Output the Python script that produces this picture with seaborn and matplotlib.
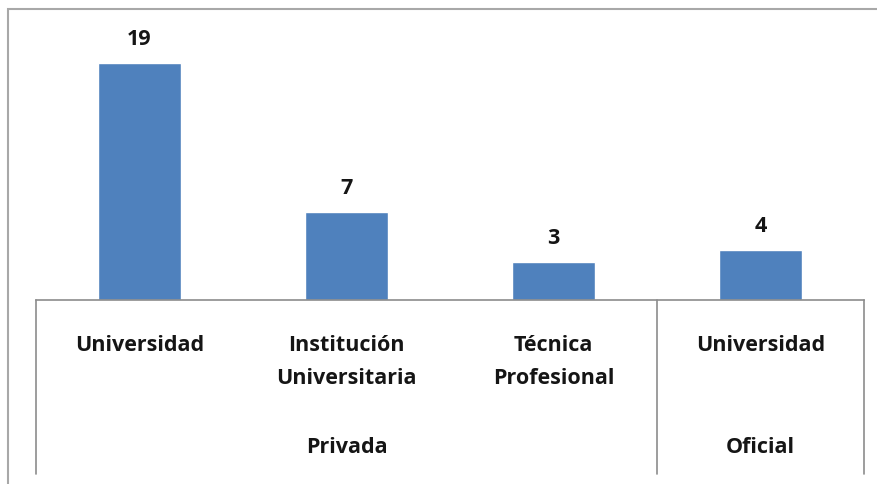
import matplotlib
matplotlib.use('Agg')
import matplotlib.pyplot as plt
import matplotlib.patches as mpatches
import matplotlib.transforms as mtransforms
import seaborn as sns
import pandas as pd

# data
categories = ['Universidad', 'Institución\nUniversitaria', 'Técnica\nProfesional', 'Universidad ']
values = [19, 7, 3, 4]
groups = ['Privada', 'Privada', 'Privada', 'Oficial']
group_names = ['Privada', 'Oficial']

df = pd.DataFrame({'categoria': categories, 'valor': values, 'grupo': groups})

sns.set_style('white')
plt.rcParams['font.family'] = ['Open Sans', 'DejaVu Sans']

fig = plt.figure(figsize=(8.78, 4.85), dpi=100)
W, H = 878, 485
base_y = 300.5
top_y = 20
ax = fig.add_axes([36 / W, (H - base_y) / H, 828 / W, (base_y - top_y) / H])

sns.barplot(data=df, x='categoria', y='valor', color='#4f81bd', width=0.4,
            saturation=1, ax=ax, order=categories)
ax.set_ylim(0, (base_y - top_y) / 12.45)
ax.set_xlim(-0.5, len(categories) - 0.5)

txt = dict(fontsize=15.5, fontweight='bold', color='#151515')

# value labels on top of bars
for container in ax.containers:
    ax.bar_label(container, labels=[str(v) for v in values], padding=10, **txt)

for side in ['top', 'left', 'right']:
    ax.spines[side].set_visible(False)
ax.spines['bottom'].set_color('#8c8c8c')
ax.spines['bottom'].set_linewidth(1.2)
ax.set_yticks([])
ax.set_xticks([])
ax.set_xlabel('')
ax.set_ylabel('')

# multi-level category axis below the plot
trans = mtransforms.blended_transform_factory(ax.transData, ax.transAxes)
px = 1.0 / (base_y - top_y)  # one pixel in axes coords (vertical)
line_bottom = -(475 - base_y) * px
for xpos in [-0.5, 2.5, 3.5]:
    ax.plot([xpos, xpos], [0, line_bottom], transform=trans, clip_on=False,
            color='#8c8c8c', lw=1.2)

for i, cat in enumerate(categories):
    ax.text(i, -(335 - base_y) * px, cat.strip(), transform=trans, ha='center', va='top',
            linespacing=1.75, **txt)

for g in group_names:
    idx = [i for i, gg in enumerate(groups) if gg == g]
    center = (min(idx) + max(idx)) / 2
    ax.text(center, -(448 - base_y) * px, g, transform=trans, ha='center', va='center', **txt)

# outer chart frame (cut off at right and bottom like the reference)
frame = mpatches.Rectangle((8 / W, -0.05), 1.0, 1 - 10 / H + 0.05, transform=fig.transFigure,
                           fill=False, edgecolor='#a8a8a8', lw=1.5)
fig.patches.append(frame)

fig.savefig('out.png', dpi=100)
